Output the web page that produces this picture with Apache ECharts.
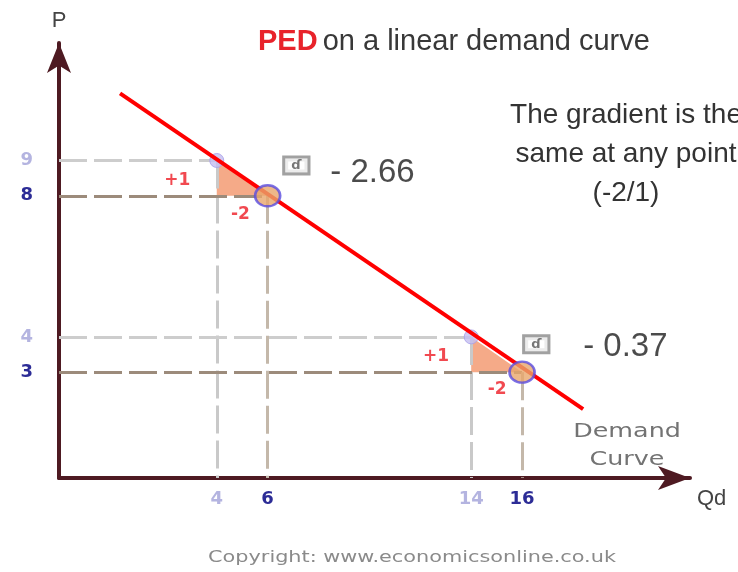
<!DOCTYPE html>
<html lang="en">
  <head>
    <meta charset="UTF-8" />
    <title>PED on a linear demand curve</title>
    <style>
      body {
        margin: 0;
        width: 738px;
        height: 572px;
        overflow: hidden;
        background: #fff;
      }
      main {
        width: 738px;
        height: 572px;
      }
    </style>
  </head>
  <body>
    <main></main>
  </body>
</html>
<script src="https://cdn.jsdelivr.net/npm/echarts@6/dist/echarts.min.js"></script>
<script>
  // points on the demand curve (Qd, P)
  const pointsQ = [4, 6, 14, 16];
  const pointsP = [9, 8, 4, 3];
  const faintPoint = [true, false, true, false]; // start of each step is drawn faint

  // ends of the drawn demand curve
  const demandQ = [0.2, 18.4];
  const demandP = [10.9, 1.95];

  // tick labels
  const xTicks = [4, 6, 14, 16];
  const yTicks = [9, 8, 4, 3];

  // step labels round the triangles
  const stepText = ["+1", "-2", "+1", "-2"];
  const stepQ = [2.45, 4.93, 12.62, 15.02];
  const stepP = [8.43, 7.47, 3.45, 2.52];

  // elasticity read-outs
  const pedText = ["- 2.66", "- 0.37"];
  const pedQ = [8.46, 18.4];
  const pedP = [8.66, 3.71];
  const boxQ = [6.69, 16.12];
  const boxP = [8.86, 3.79];

  const xMin = -2.2;

  const chart = echarts.init(document.querySelector("main"));

  // dashed guides: across from the P axis, and down to the Qd axis
  const guides = [];
  pointsQ.forEach(function (q, i) {
    const p = pointsP[i];
    const faint = faintPoint[i];
    guides.push([
      { coord: [xMin, p], lineStyle: { color: faint ? "#cdcdcd" : "#9c8b7b" } },
      { coord: [q, p] },
    ]);
    guides.push([
      { coord: [q, p], lineStyle: { color: faint ? "#c9c9c9" : "#c4b8aa" } },
      { coord: [q, 0] },
    ]);
  });

  const triangles = [];
  for (let i = 0; i < pointsQ.length; i += 2) {
    triangles.push([pointsQ[i], pointsP[i], pointsQ[i + 1], pointsP[i + 1]]);
  }

  const smallPts = [];
  const bigPts = [];
  pointsQ.forEach(function (q, i) {
    (faintPoint[i] ? smallPts : bigPts).push([q, pointsP[i]]);
  });

  const tickRich = {
    l: { fontFamily: "DejaVu Sans", fontWeight: "bold", fontSize: 18, color: "#b4b4e0" },
    d: { fontFamily: "DejaVu Sans", fontWeight: "bold", fontSize: 18, color: "#2c2c96" },
  };

  const option = {
    animation: false,
    title: {
      text: "{r|PED} {g|on a linear demand curve}",
      left: 253,
      top: 22,
      textStyle: {
        fontWeight: "normal",
        rich: {
          r: { fontFamily: "Liberation Sans", fontWeight: "bold", fontSize: 29, color: "#e8232b" },
          g: { fontFamily: "Liberation Sans", fontWeight: "normal", fontSize: 29, color: "#383838" },
        },
      },
    },
    grid: { left: 59, right: 48, top: 43, bottom: 94 },
    xAxis: {
      type: "value",
      min: xMin,
      max: 22.6,
      name: "Qd",
      nameLocation: "end",
      nameGap: 7,
      nameTextStyle: {
        fontFamily: "Liberation Sans",
        fontSize: 22,
        color: "#444",
        verticalAlign: "top",
        padding: [10, 0, 0, 0],
      },
      splitLine: { show: false },
      axisTick: { show: false },
      axisLine: {
        onZero: false,
        symbol: ["none", "arrow"],
        symbolSize: [18, 32],
        lineStyle: { color: "#4e1a22", width: 4 },
      },
      axisLabel: {
        customValues: xTicks,
        margin: 12,
        formatter: function (v) {
          const i = pointsQ.indexOf(v);
          return (faintPoint[i] ? "{l|" : "{d|") + v + "}";
        },
        rich: tickRich,
      },
    },
    yAxis: {
      type: "value",
      min: 0,
      max: 12.33,
      name: "P",
      nameLocation: "end",
      nameGap: 11,
      nameTextStyle: { fontFamily: "Liberation Sans", fontSize: 22, color: "#444" },
      splitLine: { show: false },
      axisTick: { show: false },
      axisLine: {
        onZero: false,
        symbol: ["none", "arrow"],
        symbolSize: [18, 30],
        lineStyle: { color: "#4e1a22", width: 4 },
      },
      axisLabel: {
        customValues: yTicks,
        margin: 26,
        formatter: function (v) {
          const i = pointsP.indexOf(v);
          return (faintPoint[i] ? "{l|" : "{d|") + v + "}";
        },
        rich: tickRich,
      },
    },
    series: [
      {
        // change triangles
        type: "custom",
        z: 1,
        silent: true,
        data: triangles,
        renderItem: function (params, api) {
          const a = api.coord([api.value(0), api.value(1)]);
          const b = api.coord([api.value(0), api.value(3)]);
          const c = api.coord([api.value(2), api.value(3)]);
          return {
            type: "polygon",
            shape: { points: [a, b, c] },
            style: { fill: "#f5aa88" },
          };
        },
      },
      {
        // guides + faint start points
        type: "scatter",
        z: 3,
        silent: true,
        symbolSize: 14,
        itemStyle: { color: "#c4bef0", borderColor: "#a69ee8", borderWidth: 1 },
        data: smallPts,
        markLine: {
          silent: true,
          symbol: ["none", "none"],
          label: { show: false },
          lineStyle: { type: [28, 7], width: 3 },
          z: 2,
          data: guides,
        },
      },
      {
        // demand curve
        type: "line",
        z: 4,
        silent: true,
        symbol: "none",
        lineStyle: { color: "#ff0000", width: 4 },
        data: demandQ.map(function (q, i) {
          return [q, demandP[i]];
        }),
      },
      {
        // measured points
        type: "scatter",
        z: 5,
        silent: true,
        symbol: "circle",
        symbolSize: [25, 21],
        itemStyle: { color: "#e8a66c", borderColor: "#5a4ce0", borderWidth: 2.5 },
        data: bigPts,
      },
      {
        // +1 / -2
        type: "scatter",
        z: 6,
        silent: true,
        symbolSize: 0,
        label: {
          show: true,
          position: "inside",
          fontFamily: "DejaVu Sans",
          fontWeight: "bold",
          fontSize: 17,
          color: "#ee1c24",
          formatter: function (p) {
            return stepText[p.dataIndex];
          },
        },
        data: stepQ.map(function (q, i) {
          return [q, stepP[i]];
        }),
      },
      {
        // symbol boxes
        type: "scatter",
        z: 6,
        silent: true,
        symbolSize: 0,
        label: {
          show: true,
          position: "right",
          distance: 0,
          fontFamily: "DejaVu Sans",
          fontSize: 13,
          fontWeight: "bold",
          color: "#555",
          borderColor: "#8a8a8a",
          borderWidth: 3,
          backgroundColor: "#fff",
          padding: [1, 6, 0, 6],
          formatter: "ɗ",
        },
        data: boxQ.map(function (q, i) {
          return [q, boxP[i]];
        }),
      },
      {
        // elasticity values
        type: "scatter",
        z: 6,
        silent: true,
        symbolSize: 0,
        label: {
          show: true,
          position: "right",
          distance: 0,
          fontFamily: "Liberation Sans",
          fontSize: 33,
          color: "#1e1e1e",
          formatter: function (p) {
            return pedText[p.dataIndex];
          },
        },
        data: pedQ.map(function (q, i) {
          return [q, pedP[i]];
        }),
      },
    ],
    graphic: [
      {
        type: "text",
        x: 626,
        y: 154,
        style: {
          text: "The gradient is the\nsame at any point\n(-2/1)",
          font: "28px Liberation Sans",
          fill: "#333",
          align: "center",
          verticalAlign: "middle",
          lineHeight: 39,
        },
      },
      {
        type: "text",
        x: 627,
        y: 446,
        scaleX: 1.27,
        style: {
          text: "Demand\nCurve",
          font: "20px DejaVu Sans",
          fill: "#737373",
          align: "center",
          verticalAlign: "middle",
          lineHeight: 28,
        },
      },
      {
        type: "text",
        x: 412,
        y: 558,
        scaleX: 1.3,
        style: {
          text: "Copyright: www.economicsonline.co.uk",
          font: "16px DejaVu Sans",
          fill: "#8a8a8a",
          align: "center",
          verticalAlign: "middle",
        },
      },
    ],
  };

  chart.setOption(option);
</script>
